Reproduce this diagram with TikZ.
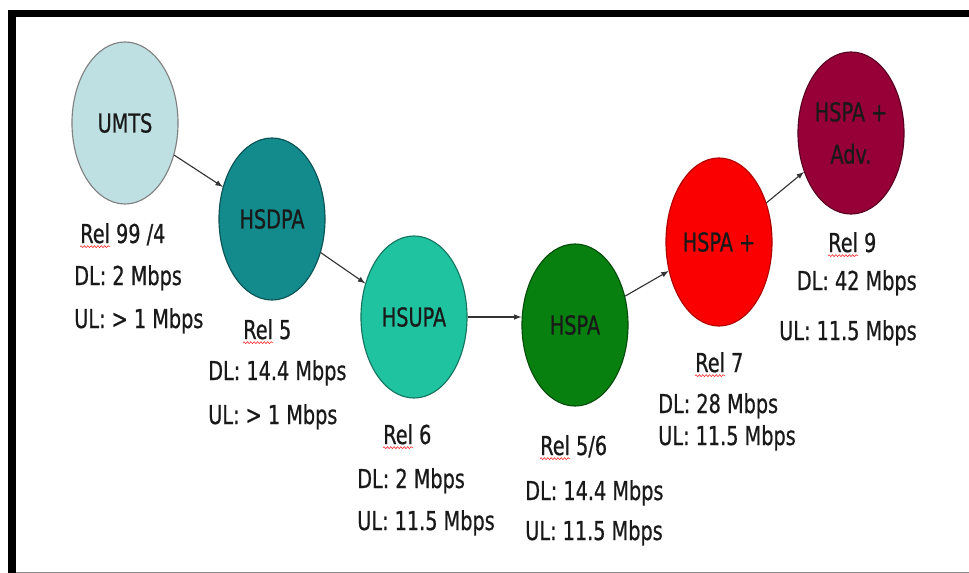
\documentclass[tikz,border=0pt]{standalone}
\usepackage{fontspec}
\setmainfont{DejaVu Sans}[FakeStretch=0.74,FakeBold=0.7]
\usetikzlibrary{shapes.geometric,decorations.pathmorphing}
\definecolor{umtsfill}{RGB}{190,224,227}
\definecolor{hsdpafill}{RGB}{19,138,140}
\definecolor{hsupafill}{RGB}{32,195,160}
\definecolor{hspafill}{RGB}{8,128,16}
\definecolor{hsplusfill}{RGB}{250,0,0}
\definecolor{advfill}{RGB}{150,0,55}
\begin{document}
\begin{tikzpicture}[x=0.025cm,y=-0.025cm,font=\fontsize{18.5}{30}\selectfont,
    ball/.style={draw,ellipse,line width=0.8pt,minimum width=2.65cm,minimum height=4.05cm,
      inner sep=0pt,align=center,text=black!90},
    lbl/.style={inner sep=0pt,text=black!90,anchor=base west},
    arr/.style={-latex,line width=0.8pt,black!80},
    squig/.style={red!85,line width=0.4pt,decorate,
      decoration={snake,amplitude=0.7pt,segment length=2.4pt}}]
    \useasboundingbox (0,0) rectangle (969,573);
    % frame
    \fill (8,10) rectangle (969,17);
    \fill (8,10) rectangle (16,573);
    \draw[black!45] (16,572) -- (969,572);

    \node[ball,fill=umtsfill,draw=black!50] (umts) at (125,123) {UMTS};
    \node[ball,fill=hsdpafill,draw=hsdpafill!60!black] (hsdpa) at (272,219) {HSDPA};
    \node[ball,fill=hsupafill,draw=hsupafill!60!black] (hsupa) at (414,317) {HSUPA};
    \node[ball,fill=hspafill,draw=hspafill!60!black] (hspa) at (575,325) {HSPA};
    \node[ball,fill=hsplusfill,draw=hsplusfill!70!black,minimum height=4.2cm] (hsplus) at (719,242) {HSPA +};
    \node[ball,fill=advfill,draw=advfill!60!black] (adv) at (851,133) {HSPA +\\Adv.};

    \node[lbl] (rel1) at (80,243) {Rel 99 /4};
    \node[lbl] (dl1) at (74,285) {DL: 2 Mbps};
    \node[lbl] (ul1) at (74,328) {UL: > 1 Mbps};
    \node[lbl] (rel2) at (243,339) {Rel 5};
    \node[lbl] (dl2) at (208,380) {DL: 14.4 Mbps};
    \node[lbl] (ul2) at (208,424) {UL: > 1 Mbps};
    \node[lbl] (rel3) at (383,444) {Rel 6};
    \node[lbl] (dl3) at (357,488) {DL: 2 Mbps};
    \node[lbl] (ul3) at (357,530) {UL: 11.5 Mbps};
    \node[lbl] (rel4) at (540,455) {Rel 5/6};
    \node[lbl] (dl4) at (525,500) {DL: 14.4 Mbps};
    \node[lbl] (ul4) at (525,540) {UL: 11.5 Mbps};
    \node[lbl] (rel5) at (695,372) {Rel 7};
    \node[lbl] (dl5) at (658,413) {DL: 28 Mbps};
    \node[lbl] (ul5) at (658,445) {UL: 11.5 Mbps};
    \node[lbl] (rel6) at (828,252) {Rel 9};
    \node[lbl,anchor=base east] (dl6) at (917,290) {DL: 42 Mbps};
    \node[lbl,anchor=base east] (ul6) at (917,340) {UL: 11.5 Mbps};

    % spelling marks under Rel
    \foreach \r in {rel1,rel2,rel3,rel4,rel5,rel6}
      \draw[squig] ([yshift=-2.6pt]\r.base west) -- ++(30,0);

    \draw (umts) edge[arr] (hsdpa) (hsdpa) edge[arr] (hsupa)
          (hsupa.east) edge[arr] (hsupa.east -| hspa.west)
          (hspa) edge[arr] (hsplus) (hsplus) edge[arr] (adv);
  \end{tikzpicture}
\end{document}
